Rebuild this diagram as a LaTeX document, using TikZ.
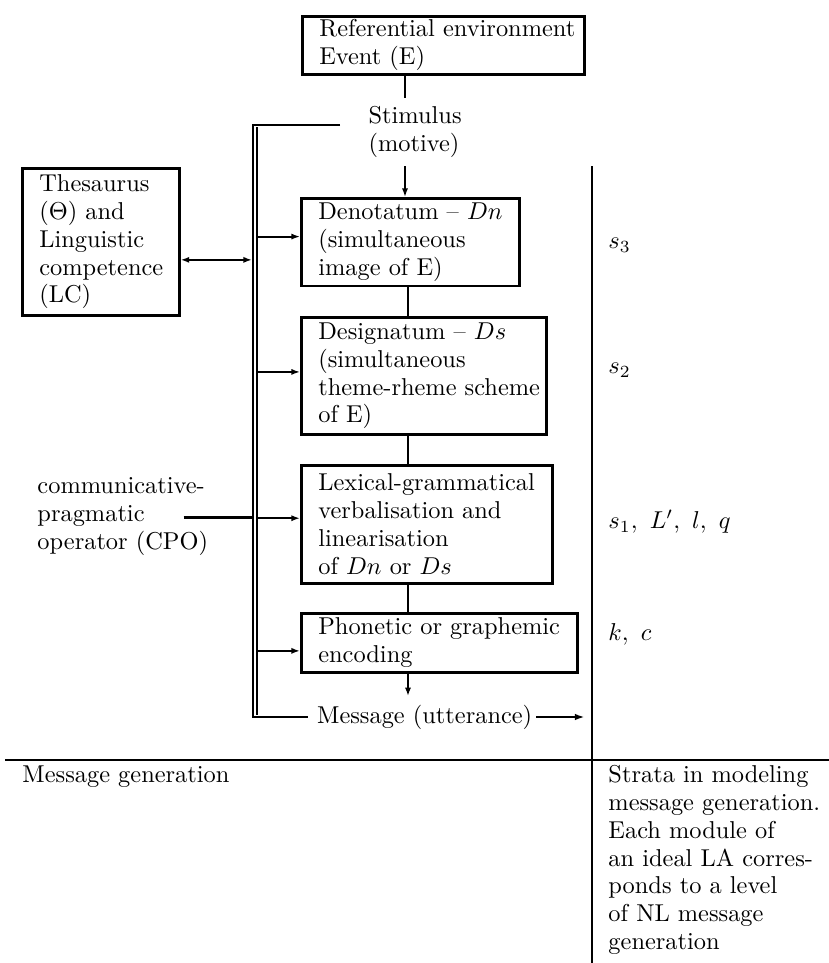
\documentclass[tikz,border=0pt]{standalone}
\usepackage{amsmath,amssymb}
\usepackage{tikz}
\usetikzlibrary{
  arrows.meta,
  calc,
}
\tikzset{
  stratbox/.style={
    rectangle, draw=black, line width=1.05pt, anchor=north west,
    inner xsep=0pt, inner ysep=1pt, align=left,
    execute at begin node={\leftskip=7pt\relax},
  },
  plainText/.style={
    inner sep=0pt, align=left,
  },
  linkLine/.style={
    line width=0.8pt,
  },
  frameLine/.style={
    line width=1pt,
  },
  thickLine/.style={
    line width=1.3pt,
  },
  arrowThin/.style={
    -{Latex[length=3.5pt,width=2.5pt]}, line width=0.8pt,
  },
  arrowBoth/.style={
    {Latex[length=3.5pt,width=2.5pt]}-{Latex[length=3.5pt,width=2.5pt]},
    line width=0.8pt,
  },
  arrowThick/.style={
    -{Latex[length=4pt,width=2.7pt]}, line width=1.15pt,
  },
}

\begin{document}
\begin{tikzpicture}[x=0.41pt, y=-0.41pt, font=\fontsize{10}{11.4}\selectfont]
\useasboundingbox (0,0) rectangle (829,963);

% Strata boxes
\node[stratbox, text width=115.6pt, minimum height=23.8pt] (ref) at (301,15) {%
  Referential environment\\Event (E)%
};
\node[stratbox, text width=64.4pt, minimum height=60.3pt] (thes) at (21,167) {%
  Thesaurus\\($\Theta$) and\\Linguistic\\competence\\(LC)%
};
\node[stratbox, text width=89.4pt, minimum height=36pt] (dn) at (300,197) {%
  Denotatum -- $Dn$\\(simultaneous\\image of E)%
};
\node[stratbox, text width=100.5pt, minimum height=48pt] (ds) at (300,316) {%
  Designatum -- $Ds$\\(simultaneous\\theme-rheme scheme\\of E)%
};
\node[stratbox, text width=102.9pt, minimum height=48.4pt] (lex) at (300,464) {%
  Lexical-grammatical\\verbalisation and\\linearisation\\of $Dn$ or $Ds$%
};
\node[stratbox, text width=113.2pt, minimum height=24.2pt] (pho) at (300,612) {%
  Phonetic or graphemic\\encoding%
};

% Free texts
\node[align=left, anchor=north west] (stim) at (360,98) {Stimulus\\(motive)};
\node[plainText, anchor=north west] (cpo) at (37,477) {%
  communicative-\\pragmatic\\operator (CPO)%
};
\node[anchor=west, inner xsep=1.5pt] (msg) at (313,717) {Message (utterance)};

% Strata labels
\node[plainText, anchor=west] (lvlThree) at (608,245) {$s_3$};
\node[plainText, anchor=west] (lvlTwo)   at (608,370) {$s_2$};
\node[plainText, anchor=west] (lvlOne)   at (608,522) {$s_1,\ L',\ l,\ q$};
\node[plainText, anchor=west] (lvlZero)  at (608,634) {$k,\ c$};

\node[plainText, anchor=base west] (capLeft) at (22,782) {Message generation};
\node[plainText, anchor=north west] (capRight) at (608,765) {%
  Strata in modeling\\message generation.\\Each module of\\an ideal LA corres-\\ponds to a level\\of NL message\\generation%
};

% Helper coordinates
\coordinate (axisA) at (405,0);
\coordinate (axisB) at (408,0);
\coordinate (barOut) at (253,0);
\coordinate (barIn) at (257,0);
\coordinate (barTop) at (253,125);
\coordinate (barBot) at (253,717);
\coordinate (stimLead) at (340,125);
\coordinate (vlineTop) at (592,166);
\coordinate (vlineBot) at (592,963);
\coordinate (hLeft) at (5,760);
\coordinate (hRight) at (829,760);

% Main flow
\draw[linkLine]  (ref.south -| axisA) -- (stim.north -| axisA);
\draw[arrowThin] (stim.south -| axisA) -- (dn.north -| axisA);
\draw[linkLine]  (dn.south -| axisB) -- (ds.north -| axisB);
\draw[linkLine]  (ds.south -| axisB) -- (lex.north -| axisB);
\draw[linkLine]  (lex.south -| axisB) -- (pho.north -| axisB);
\draw[arrowThin] (pho.south -| axisB) -- (msg.north -| axisB);

% Double bar
\draw[linkLine] (stimLead) -- (barTop) -- (barBot) -- ([xshift=-2pt]msg.west);
\draw[linkLine] (257,127) -- (257,715);

% Bar -> boxes
\coordinate (dnIn)  at ([yshift=2.3pt]dn.west);
\coordinate (dsIn)  at ([yshift=1.6pt]ds.west);
\coordinate (lexIn) at ([yshift=2.5pt]lex.west);
\coordinate (phoIn) at ([yshift=-3.3pt]pho.west);
\draw[arrowThin] (barIn |- dnIn)  -- (dnIn);
\draw[arrowThin] (barIn |- dsIn)  -- (dsIn);
\draw[arrowThin] (barIn |- lexIn) -- (lexIn);
\draw[arrowThin] (barIn |- phoIn) -- (phoIn);

% Thesaurus <-> bar, CPO -> bar
\coordinate (thesOut) at ([yshift=-7.4pt]thes.east);
\draw[arrowBoth] (thesOut) -- ([xshift=-0.4pt]thesOut -| barOut);
\coordinate (cpoOut) at ($(cpo.east)+(-25,1)$);
\draw[thickLine] (cpoOut) -- (cpoOut -| barOut);

% Message out
\draw[arrowThick, shorten >=3pt] (msg.east) -- (msg.east -| vlineTop);

% Frame lines
\draw[linkLine] (vlineTop) -- (vlineBot);
\draw[frameLine] (hLeft) -- (hRight);

\end{tikzpicture}
\end{document}
